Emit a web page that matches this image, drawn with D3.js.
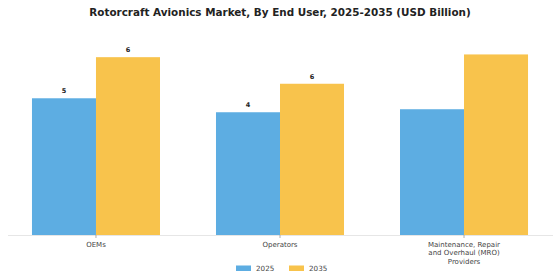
<!DOCTYPE html>
<html><head><meta charset="utf-8">
<script src="https://cdn.jsdelivr.net/npm/d3@7"></script>
<style>body{margin:0;background:#fff}svg{display:block;font-family:"DejaVu Sans",sans-serif}</style>
</head><body><svg id="c" width="560" height="280"></svg>
<script>
const categories = ["OEMs", "Operators", "Maintenance, Repair and Overhaul (MRO) Providers"];
const categoryLines = [["OEMs"], ["Operators"], ["Maintenance, Repair", "and Overhaul (MRO)", "Providers"]];
const seriesNames = ["2025", "2035"];
const values2025 = [4.99, 4.48, 4.59];
const values2035 = [6.49, 5.52, 6.59];
const showLabel = [true, true, false];
const colors = ["#5DADE2", "#F8C34C"];

const svg = d3.select("#c");
const W = 560, H = 280, base = 235;
const x = d3.scaleBand().domain(categories).range([4, 556]).paddingInner(0.3043).paddingOuter(0.152);
const x1 = d3.scaleBand().domain(seriesNames).range([0, x.bandwidth()]);
const y = d3.scaleLinear().domain([0, 7]).range([base, base - 7 * 27.4]);

svg.append("text").attr("x", 280).attr("y", 15.5).attr("text-anchor", "middle")
  .attr("font-size", 10.4).attr("font-weight", "bold").attr("fill", "#222")
  .text("Rotorcraft Avionics Market, By End User, 2025-2035 (USD Billion)");

const series = [values2025, values2035];
categories.forEach((c, i) => {
  series.forEach((vals, s) => {
    const bx = x(c) + x1(seriesNames[s]);
    svg.append("rect").attr("x", bx).attr("y", y(vals[i])).attr("width", x1.bandwidth())
      .attr("height", base - y(vals[i])).attr("fill", colors[s]);
    if (showLabel[i]) {
      svg.append("text").attr("x", bx + x1.bandwidth() / 2).attr("y", y(vals[i]) - 5)
        .attr("text-anchor", "middle").attr("font-size", 6.5).attr("font-weight", "bold")
        .attr("fill", "#222").text(d3.format(".0f")(vals[i]));
    }
  });
});

// axis
svg.append("line").attr("x1", 8).attr("x2", 553).attr("y1", base + 0.5).attr("y2", base + 0.5)
  .attr("stroke", "#e6e6e6").attr("stroke-width", 1);
categories.forEach((c, i) => {
  const cx = x(c) + x.bandwidth() / 2;
  svg.append("line").attr("x1", cx).attr("x2", cx).attr("y1", base).attr("y2", base + 3)
    .attr("stroke", "#999").attr("stroke-width", 0.8);
  const t = svg.append("text").attr("x", cx).attr("y", base + 11.5).attr("text-anchor", "middle")
    .attr("font-size", 7).attr("fill", "#444");
  categoryLines[i].forEach((ln, k) => {
    t.append("tspan").attr("x", cx).attr("dy", k === 0 ? 0 : 8.8).text(ln);
  });
});

// legend
const legend = [{x: 236, tx: 256}, {x: 289, tx: 309}];
seriesNames.forEach((n, s) => {
  svg.append("rect").attr("x", legend[s].x).attr("y", 265.5).attr("width", 15).attr("height", 5.5).attr("fill", colors[s]);
  svg.append("text").attr("x", legend[s].tx).attr("y", 271).attr("font-size", 7.2).attr("fill", "#444").text(n);
});
</script></body></html>
